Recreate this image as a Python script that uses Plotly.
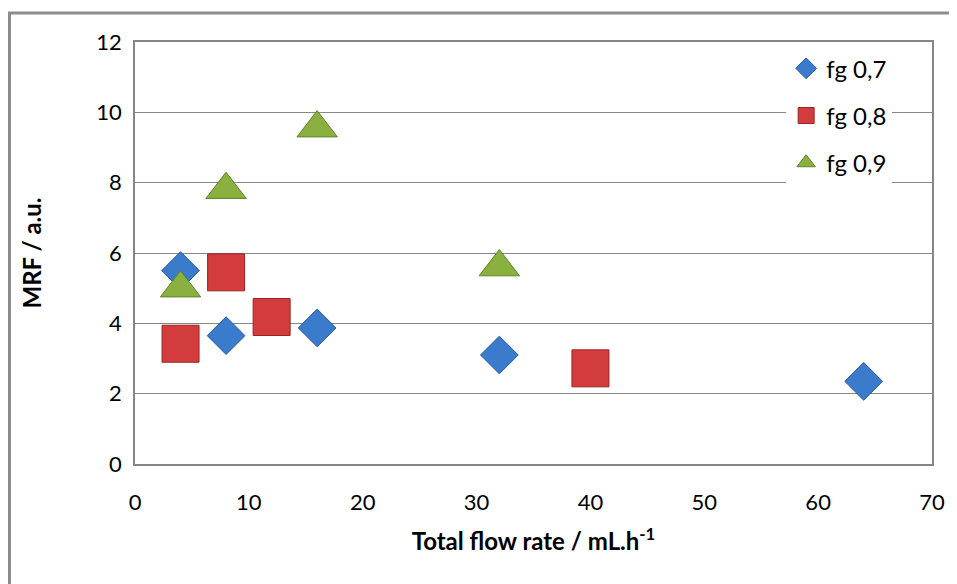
import plotly.graph_objects as go

# Data
x_07 = [4, 8, 16, 32, 64]
y_07 = [5.5, 3.65, 3.87, 3.1, 2.35]
x_08 = [4, 8, 12, 40]
y_08 = [3.42, 5.45, 4.18, 2.72]
x_09 = [4, 8, 16, 32]
y_09 = [5.0, 7.8, 9.55, 5.6]
names = ["fg 0,7", "fg 0,8", "fg 0,9"]
x_ticks = [0, 10, 20, 30, 40, 50, 60, 70]
y_ticks = [0, 2, 4, 6, 8, 10, 12]

FONT = "Lato, Calibri, sans-serif"
GRID = "#868686"

fig = go.Figure()
fig.add_trace(go.Scatter(
    x=x_07, y=y_07, mode="markers", name=names[0], legendgroup="a",
    marker=dict(symbol="diamond", size=29, color="#3a7bcb",
                line=dict(color="#245a9e", width=1))))
fig.add_trace(go.Scatter(
    x=x_08, y=y_08, mode="markers", name=names[1], legendgroup="b",
    marker=dict(symbol="square", size=37, color="#d23c3c",
                line=dict(color="#9a2424", width=1))))
fig.add_trace(go.Scatter(
    x=x_09, y=y_09, mode="markers", name=names[2], legendgroup="c",
    marker=dict(symbol="triangle-up", size=35, color="#8ab13f",
                line=dict(color="#5f8228", width=1))))

fig.update_layout(
    width=949, height=576,
    margin=dict(l=127, r=22, t=34, b=120),
    paper_bgcolor="white", plot_bgcolor="white",
    font=dict(family=FONT, color="#000000", size=22),
    showlegend=True,
    legend=dict(x=0.817, y=0.99, xanchor="left", yanchor="top",
                bgcolor="white", borderwidth=0,
                font=dict(family=FONT, size=24, color="#000"),
                traceorder="grouped", tracegroupgap=13),
    xaxis=dict(range=[0, 70], tickvals=x_ticks, showgrid=False,
               zeroline=False, showline=True, linecolor=GRID, linewidth=1.5,
               mirror=True, ticks="", ticklabelstandoff=18,
               tickfont=dict(size=22),
               title=dict(text="<b>Total flow rate / mL.h<sup>-1</sup></b>",
                          font=dict(size=24), standoff=19)),
    yaxis=dict(range=[0, 12], tickvals=y_ticks, showgrid=True,
               gridcolor=GRID, gridwidth=1, zeroline=False,
               showline=True, linecolor=GRID, linewidth=1.5, mirror=True,
               ticks="", ticklabelstandoff=7, tickfont=dict(size=22),
               title=dict(text="<b>MRF / a.u.</b>", font=dict(size=24),
                          standoff=48)),
)

# outer chart border
fig.add_shape(type="rect", xref="paper", yref="paper",
              x0=(1 - 127) / 800, x1=1.2, y0=-0.5, y1=1 + (34 - 5) / 422,
              line=dict(color="#8c8c8c", width=3), layer="below")

fig.write_html("out.html")
